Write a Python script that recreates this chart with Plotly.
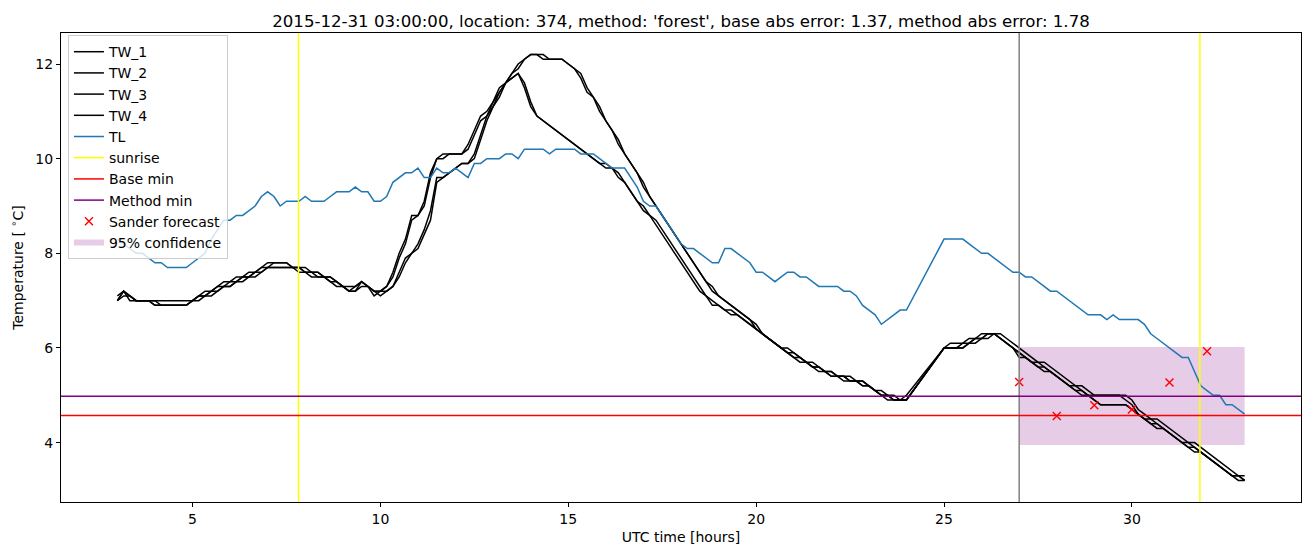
import plotly.graph_objects as go

# ---------------- data ----------------
# 10-minute samples, 03:00 .. 33:00 UTC hours (no data between 24:00 and 25:00)
MINUTES = [0, 10, 20, 30, 40, 50]
hours_a = list(range(3, 24))
hours_b = list(range(25, 33))
time_h = ([h + m / 60 for h in hours_a for m in MINUTES] + [24.0]
          + [h + m / 60 for h in hours_b for m in MINUTES] + [33.0])

TL = [
    8.3, 8.2, 8.1, 8.0, 8.0, 7.9,        # 3
    7.8, 7.8, 7.7, 7.7, 7.7, 7.7,        # 4
    7.8, 7.9, 8.0, 8.3, 8.5, 8.7,        # 5
    8.7, 8.8, 8.8, 8.9, 9.0, 9.2,        # 6
    9.3, 9.2, 9.0, 9.1, 9.1, 9.1,        # 7
    9.2, 9.1, 9.1, 9.1, 9.2, 9.3,        # 8
    9.3, 9.3, 9.4, 9.3, 9.3, 9.1,        # 9
    9.1, 9.2, 9.5, 9.6, 9.7, 9.7,        # 10
    9.8, 9.6, 9.6, 9.8, 9.7, 9.7,        # 11
    9.8, 9.7, 9.6, 9.9, 9.9, 10.0,       # 12
    10.0, 10.0, 10.1, 10.1, 10.0, 10.2,  # 13
    10.2, 10.2, 10.2, 10.1, 10.2, 10.2,  # 14
    10.2, 10.2, 10.1, 10.1, 10.1, 10.0,  # 15
    9.9, 9.8, 9.8, 9.8, 9.6, 9.4,        # 16
    9.1, 9.0, 9.0, 8.8, 8.6, 8.4,        # 17
    8.2, 8.1, 8.1, 8.0, 7.9, 7.8,        # 18
    7.8, 8.1, 8.1, 8.0, 7.9, 7.8,        # 19
    7.6, 7.6, 7.5, 7.4, 7.5, 7.6,        # 20
    7.6, 7.5, 7.5, 7.4, 7.3, 7.3,        # 21
    7.3, 7.3, 7.2, 7.2, 7.1, 6.9,        # 22
    6.8, 6.7, 6.5, 6.6, 6.7, 6.8,        # 23
    6.8,                                 # 24:00
    8.3, 8.3, 8.3, 8.3, 8.2, 8.1,        # 25
    8.0, 8.0, 7.9, 7.8, 7.7, 7.6,        # 26
    7.6, 7.5, 7.5, 7.4, 7.3, 7.2,        # 27
    7.2, 7.1, 7.0, 6.9, 6.8, 6.7,        # 28
    6.7, 6.7, 6.6, 6.7, 6.6, 6.6,        # 29
    6.6, 6.6, 6.5, 6.3, 6.2, 6.1,        # 30
    6.0, 5.9, 5.8, 5.8, 5.5, 5.2,        # 31
    5.1, 5.0, 5.0, 4.8, 4.8, 4.7,        # 32
    4.6,                                 # 33
]

TW_1 = [
    7.0, 7.2, 7.1, 7.0, 7.0, 7.0,
    6.9, 6.9, 6.9, 6.9, 6.9, 6.9,
    7.0, 7.1, 7.1, 7.2, 7.3, 7.3,
    7.4, 7.4, 7.5, 7.5, 7.6, 7.7,
    7.7, 7.8, 7.8, 7.8, 7.7, 7.7,
    7.6, 7.6, 7.6, 7.5, 7.5, 7.4,
    7.3, 7.2, 7.3, 7.4, 7.3, 7.2,
    7.2, 7.2, 7.3, 7.6, 7.9, 8.0,
    8.2, 8.5, 8.9, 9.6, 9.6, 9.7,
    9.8, 9.9, 9.9, 10.1, 10.5, 10.9,
    11.1, 11.4, 11.6, 11.8, 12.0, 12.1,
    12.2, 12.2, 12.1, 12.1, 12.1, 12.1,
    12.0, 11.9, 11.7, 11.4, 11.3, 11.0,
    10.8, 10.6, 10.3, 10.1, 9.9, 9.7,
    9.4, 9.2, 9.0, 8.8, 8.6, 8.4,
    8.2, 8.0, 7.8, 7.6, 7.4, 7.2,
    7.1, 7.0, 6.9, 6.8, 6.7, 6.6,
    6.4, 6.3, 6.2, 6.1, 6.0, 5.9,
    5.9, 5.8, 5.7, 5.6, 5.6, 5.5,
    5.5, 5.4, 5.4, 5.3, 5.3, 5.3,
    5.2, 5.1, 5.0, 5.0, 4.9, 4.9,
    4.9,
    6.0, 6.0, 6.0, 6.0, 6.1, 6.2,
    6.2, 6.3, 6.3, 6.2, 6.1, 6.0,
    5.9, 5.8, 5.7, 5.7, 5.6, 5.5,
    5.4, 5.3, 5.2, 5.2, 5.1, 5.0,
    5.0, 5.0, 5.0, 5.0, 5.0, 4.9,
    4.8, 4.6, 4.5, 4.5, 4.4, 4.3,
    4.2, 4.1, 4.0, 4.0, 3.9, 3.8,
    3.7, 3.6, 3.5, 3.4, 3.3, 3.3,
    3.2,
]

TW_2 = [
    7.1, 7.2, 7.1, 7.0, 7.0, 7.0,
    7.0, 7.0, 7.0, 7.0, 7.0, 7.0,
    7.0, 7.1, 7.2, 7.2, 7.3, 7.4,
    7.4, 7.5, 7.5, 7.6, 7.6, 7.7,
    7.8, 7.8, 7.8, 7.8, 7.7, 7.7,
    7.7, 7.6, 7.6, 7.5, 7.5, 7.4,
    7.3, 7.3, 7.3, 7.4, 7.3, 7.2,
    7.1, 7.2, 7.3, 7.5, 7.8, 8.0,
    8.1, 8.4, 8.7, 9.5, 9.6, 9.7,
    9.8, 9.9, 9.9, 10.0, 10.4, 10.8,
    11.1, 11.3, 11.6, 11.8, 11.9, 12.1,
    12.2, 12.2, 12.2, 12.1, 12.1, 12.1,
    12.0, 11.9, 11.8, 11.5, 11.3, 11.1,
    10.8, 10.6, 10.4, 10.1, 9.9, 9.7,
    9.5, 9.2, 9.0, 8.8, 8.6, 8.4,
    8.2, 8.0, 7.8, 7.6, 7.4, 7.3,
    7.1, 7.0, 6.9, 6.8, 6.7, 6.6,
    6.5, 6.3, 6.2, 6.1, 6.0, 6.0,
    5.9, 5.8, 5.7, 5.7, 5.6, 5.5,
    5.5, 5.4, 5.4, 5.4, 5.3, 5.3,
    5.2, 5.1, 5.1, 5.0, 5.0, 4.9,
    4.9,
    6.0, 6.1, 6.1, 6.1, 6.2, 6.2,
    6.3, 6.3, 6.3, 6.3, 6.2, 6.1,
    6.0, 5.9, 5.8, 5.7, 5.7, 5.6,
    5.5, 5.4, 5.3, 5.2, 5.2, 5.1,
    5.0, 5.0, 5.0, 5.0, 5.0, 5.0,
    4.9, 4.7, 4.6, 4.5, 4.5, 4.4,
    4.3, 4.2, 4.1, 4.0, 4.0, 3.9,
    3.8, 3.7, 3.6, 3.5, 3.4, 3.3,
    3.3,
]

TW_3 = [
    7.0, 7.1, 7.1, 7.0, 7.0, 7.0,
    6.9, 6.9, 6.9, 6.9, 6.9, 6.9,
    7.0, 7.0, 7.1, 7.2, 7.2, 7.3,
    7.3, 7.4, 7.4, 7.5, 7.6, 7.6,
    7.7, 7.7, 7.7, 7.7, 7.7, 7.6,
    7.6, 7.6, 7.5, 7.5, 7.4, 7.4,
    7.3, 7.2, 7.2, 7.3, 7.3, 7.2,
    7.2, 7.3, 7.6, 8.0, 8.3, 8.8,
    8.8, 9.0, 9.6, 10.0, 10.0, 10.1,
    10.1, 10.1, 10.2, 10.5, 10.8, 10.9,
    11.2, 11.4, 11.6, 11.7, 11.8, 11.6,
    11.2, 10.9, 10.8, 10.7, 10.6, 10.5,
    10.4, 10.3, 10.2, 10.1, 10.0, 9.9,
    9.9, 9.8, 9.7, 9.5, 9.3, 9.1,
    9.0, 8.8, 8.7, 8.5, 8.3, 8.1,
    7.9, 7.7, 7.5, 7.3, 7.1, 7.0,
    6.9, 6.8, 6.8, 6.7, 6.6, 6.5,
    6.4, 6.3, 6.2, 6.1, 6.0, 5.9,
    5.8, 5.8, 5.7, 5.6, 5.6, 5.5,
    5.4, 5.4, 5.4, 5.3, 5.3, 5.2,
    5.2, 5.1, 5.0, 5.0, 4.9, 4.9,
    4.9,
    6.0, 6.0, 6.0, 6.0, 6.1, 6.1,
    6.2, 6.2, 6.3, 6.2, 6.1, 6.0,
    5.8, 5.8, 5.7, 5.6, 5.5, 5.5,
    5.4, 5.3, 5.2, 5.1, 5.0, 5.0,
    4.9, 4.8, 4.8, 4.8, 4.8, 4.8,
    4.7, 4.6, 4.5, 4.4, 4.4, 4.3,
    4.2, 4.1, 4.0, 3.9, 3.9, 3.8,
    3.7, 3.6, 3.5, 3.4, 3.3, 3.3,
    3.2,
]

TW_4 = [
    7.0, 7.2, 7.0, 7.0, 7.0, 7.0,
    7.0, 6.9, 6.9, 6.9, 6.9, 6.9,
    7.0, 7.1, 7.1, 7.1, 7.2, 7.3,
    7.3, 7.4, 7.5, 7.5, 7.5, 7.6,
    7.7, 7.7, 7.7, 7.7, 7.7, 7.7,
    7.6, 7.5, 7.5, 7.5, 7.4, 7.3,
    7.3, 7.2, 7.2, 7.4, 7.3, 7.1,
    7.2, 7.3, 7.5, 7.9, 8.2, 8.7,
    8.8, 9.1, 9.7, 10.0, 10.1, 10.1,
    10.1, 10.1, 10.3, 10.6, 10.9, 11.0,
    11.2, 11.5, 11.6, 11.7, 11.8, 11.5,
    11.1, 10.9, 10.8, 10.7, 10.6, 10.5,
    10.4, 10.3, 10.2, 10.1, 10.0, 9.9,
    9.8, 9.8, 9.6, 9.5, 9.3, 9.1,
    8.9, 8.8, 8.6, 8.4, 8.2, 8.0,
    7.8, 7.6, 7.4, 7.2, 7.1, 6.9,
    6.9, 6.8, 6.7, 6.7, 6.6, 6.5,
    6.4, 6.3, 6.2, 6.1, 6.0, 5.9,
    5.8, 5.7, 5.7, 5.6, 5.5, 5.5,
    5.4, 5.4, 5.3, 5.3, 5.3, 5.2,
    5.2, 5.1, 5.0, 4.9, 4.9, 4.9,
    5.0,
    6.0, 6.0, 6.0, 6.1, 6.1, 6.2,
    6.2, 6.3, 6.3, 6.2, 6.1, 6.0,
    5.9, 5.8, 5.7, 5.6, 5.6, 5.5,
    5.4, 5.3, 5.2, 5.1, 5.1, 5.0,
    4.9, 4.8, 4.8, 4.8, 4.8, 4.8,
    4.7, 4.6, 4.5, 4.4, 4.3, 4.3,
    4.2, 4.1, 4.0, 3.9, 3.8, 3.8,
    3.7, 3.6, 3.5, 3.4, 3.3, 3.2,
    3.2,
]

sunrise_h = [7.82, 31.81]
forecast_start_h = [27.0]
base_min = 4.575
method_min = 4.98
sander_h = [27, 28, 29, 30, 31, 32]
sander_T = [5.28, 4.56, 4.79, 4.70, 5.27, 5.93]
conf_h = [27.0, 33.0]
conf_low = 3.95
conf_high = 6.02

title = ("2015-12-31 03:00:00, location: 374, method: 'forest', "
         "base abs error: 1.37, method abs error: 1.78")

for s in (TL, TW_1, TW_2, TW_3, TW_4):
    assert len(s) == len(time_h), (len(s), len(time_h))

# ---------------- figure ----------------
FONT = "DejaVu Sans"
fig = go.Figure()

# confidence band (drawn first, listed last)
fig.add_trace(go.Scatter(
    x=[conf_h[0], conf_h[1], conf_h[1], conf_h[0]],
    y=[conf_low, conf_low, conf_high, conf_high],
    fill="toself", mode="none", fillcolor="rgba(128,0,128,0.2)",
    name="95% confidence", legendrank=1010, hoverinfo="skip"))

for i, s in enumerate([TW_1, TW_2, TW_3, TW_4]):
    fig.add_trace(go.Scatter(x=time_h, y=s, mode="lines", name=f"TW_{i+1}",
                             line=dict(color="black", width=1.5),
                             legendrank=1000 + i))

fig.add_trace(go.Scatter(x=time_h, y=TL, mode="lines", name="TL",
                         line=dict(color="#1f77b4", width=1.5), legendrank=1004))

# legend stand-ins for the reference lines
for nm, col, rk in [("sunrise", "yellow", 1005), ("Base min", "red", 1006),
                    ("Method min", "purple", 1007)]:
    fig.add_trace(go.Scatter(x=[None], y=[None], mode="lines", name=nm,
                             line=dict(color=col, width=1.5), legendrank=rk))

fig.add_trace(go.Scatter(x=sander_h, y=sander_T, mode="markers",
                         name="Sander forecast", legendrank=1008,
                         marker=dict(symbol="x-thin", size=8, color="red",
                                     line=dict(width=1.4, color="red"))))

shapes = []
for t in sunrise_h:
    shapes.append(dict(type="line", xref="x", yref="paper", x0=t, x1=t, y0=0, y1=1,
                       line=dict(color="yellow", width=1.5), layer="above"))
for t in forecast_start_h:
    shapes.append(dict(type="line", xref="x", yref="paper", x0=t, x1=t, y0=0, y1=1,
                       line=dict(color="gray", width=1.5), layer="above"))
shapes.append(dict(type="line", xref="paper", yref="y", x0=0, x1=1, y0=base_min, y1=base_min,
                   line=dict(color="red", width=1.5), layer="above"))
shapes.append(dict(type="line", xref="paper", yref="y", x0=0, x1=1, y0=method_min, y1=method_min,
                   line=dict(color="purple", width=1.5), layer="above"))

axis_common = dict(showline=True, linecolor="black", linewidth=1, mirror=True,
                   ticks="outside", ticklen=4, tickcolor="black", showgrid=False,
                   zeroline=False, automargin=False,
                   tickfont=dict(family=FONT, size=14, color="black"))

# the page body has an 8 px margin, so the figure is 8 px smaller and margins shifted
fig.update_layout(
    width=1302, height=539,
    margin=dict(l=53, r=9, t=25, b=45, autoexpand=False),
    paper_bgcolor="white", plot_bgcolor="white",
    font=dict(family=FONT, size=14, color="black"),
    title=dict(text=title, x=0.5, xref="paper", xanchor="center",
               y=1.0, yref="paper", yanchor="bottom", pad=dict(b=6),
               automargin=False,
               font=dict(family=FONT, size=16.6, color="black")),
    xaxis=dict(range=[1.5, 34.5], tickvals=[5, 10, 15, 20, 25, 30],
               title=dict(text="UTC time [hours]", font=dict(family=FONT, size=14), standoff=6),
               **axis_common),
    yaxis=dict(range=[2.745, 12.655], tickvals=[4, 6, 8, 10, 12],
               title=dict(text="Temperature [ <sup>∘</sup>C]", font=dict(family=FONT, size=14), standoff=8),
               **axis_common),
    legend=dict(x=0.0056, y=0.9955, xanchor="left", yanchor="top",
                bgcolor="rgba(255,255,255,0.8)", bordercolor="#cccccc", borderwidth=1,
                font=dict(family=FONT, size=14, color="black"), itemwidth=30,
                tracegroupgap=0),
    shapes=shapes,
    showlegend=True,
)

fig.write_html("out.html")
